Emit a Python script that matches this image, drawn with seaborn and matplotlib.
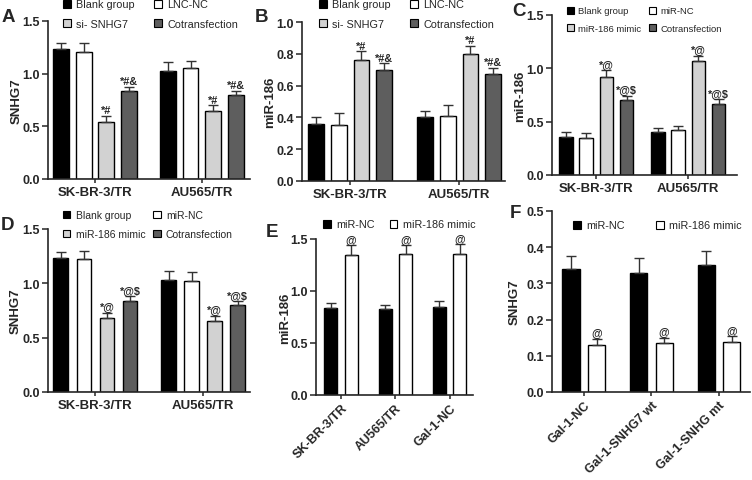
import numpy as np
import pandas as pd
import matplotlib
matplotlib.use("Agg")
import matplotlib.pyplot as plt
import seaborn as sns
from matplotlib.patches import Patch

# ---------------- data ----------------
cells = ["SK-BR-3/TR", "AU565/TR"]

a_hue = ["Blank group", "LNC-NC", "si- SNHG7", "Cotransfection"]
a_blank = [1.23, 1.03]; a_blank_err = [0.065, 0.08]
a_lnc = [1.21, 1.05];   a_lnc_err = [0.08, 0.07]
a_si = [0.54, 0.65];    a_si_err = [0.06, 0.05]
a_cot = [0.84, 0.80];   a_cot_err = [0.035, 0.035]
a_marks = ["", "", "*#", "*#&"]

b_blank = [0.36, 0.40]; b_blank_err = [0.04, 0.04]
b_lnc = [0.35, 0.41];   b_lnc_err = [0.08, 0.07]
b_si = [0.76, 0.80];    b_si_err = [0.055, 0.05]
b_cot = [0.70, 0.67];   b_cot_err = [0.04, 0.04]
b_marks = ["", "", "*#", "*#&"]

c_hue = ["Blank group", "miR-NC", "miR-186 mimic", "Cotransfection"]
c_blank = [0.36, 0.40]; c_blank_err = [0.04, 0.045]
c_nc = [0.35, 0.42];    c_nc_err = [0.04, 0.04]
c_mim = [0.92, 1.07];   c_mim_err = [0.06, 0.05]
c_cot = [0.70, 0.67];   c_cot_err = [0.04, 0.04]
c_marks = ["", "", "*@", "*@$"]

d_blank = [1.23, 1.03]; d_blank_err = [0.06, 0.08]
d_nc = [1.22, 1.02];    d_nc_err = [0.08, 0.08]
d_mim = [0.68, 0.65];   d_mim_err = [0.05, 0.05]
d_cot = [0.84, 0.80];   d_cot_err = [0.04, 0.035]
d_marks = ["", "", "*@", "*@$"]

e_cats = ["SK-BR-3/TR", "AU565/TR", "Gal-1-NC"]
ef_hue = ["miR-NC", "miR-186 mimic"]
e_nc = [0.84, 0.83, 0.85];   e_nc_err = [0.04, 0.04, 0.05]
e_mim = [1.35, 1.36, 1.36];  e_mim_err = [0.09, 0.08, 0.09]
e_marks = ["", "@"]

f_cats = ["Gal-1-NC", "Gal-1-SNHG7 wt", "Gal-1-SNHG mt"]
f_nc = [0.34, 0.33, 0.35];      f_nc_err = [0.037, 0.04, 0.04]
f_mim = [0.13, 0.135, 0.137];   f_mim_err = [0.017, 0.015, 0.017]
f_marks = ["", "@"]

col4 = ["#000000", "#ffffff", "#d2d2d2", "#5e5e5e"]
col2 = ["#000000", "#ffffff"]

# ---------------- style ----------------
sns.set_style("ticks")
plt.rcParams["font.family"] = ["Liberation Sans", "DejaVu Sans"]
plt.rcParams["axes.linewidth"] = 1.2

W, H = 752, 481
fig = plt.figure(figsize=(W / 100, H / 100), dpi=100)


def add_ax(l, r, t, b):
    return fig.add_axes([l / W, 1 - b / H, (r - l) / W, (b - t) / H])


def panel(rect, cats, hue, means, errs, cols, width, gap, xlim, ylim, yticks,
          ylabel, ylab_right, marks, leg_xy, leg_fs, leg_colsp,
          rot=False, mark_fs=7.8, leg_sp=0.8):
    ax = add_ax(*rect)
    rows = []
    for h, m in zip(hue, means):
        for c, v in zip(cats, m):
            rows.append({"cat": c, "grp": h, "val": v})
    df = pd.DataFrame(rows)
    sns.barplot(data=df, x="cat", y="val", hue="grp", order=cats, hue_order=hue,
                palette=cols, width=width, gap=gap, errorbar=None,
                edgecolor="black", linewidth=1.0, legend=False, ax=ax)
    for cont, m, e, mk in zip(ax.containers, means, errs, marks):
        xs = [bar.get_x() + bar.get_width() / 2 for bar in cont]
        ax.errorbar(xs, m, yerr=[np.zeros(len(e)), e], fmt="none",
                    ecolor="#333333", elinewidth=1.0, capsize=3.5, capthick=1.0,
                    zorder=1)
        if mk:
            for x, v, ee in zip(xs, m, e):
                ax.annotate(mk, (x, v + ee), xytext=(0, 0.5),
                            textcoords="offset points", ha="center", va="bottom",
                            fontsize=mark_fs, fontweight="bold")
    ax.set_xlim(*xlim)
    ax.set_ylim(*ylim)
    ax.set_yticks(yticks)
    ax.set_yticklabels([f"{t:.1f}" for t in yticks], fontsize=9, fontweight="bold")
    ax.set_xlabel("")
    ax.set_ylabel(ylabel, fontsize=9.5, fontweight="bold")
    ax.yaxis.set_label_coords((ylab_right - rect[0]) / (rect[1] - rect[0]), 0.5)
    ax.set_xticks(range(len(cats)))
    if rot:
        ax.set_xticklabels(cats, rotation=45, ha="right", rotation_mode="anchor",
                           fontsize=9, fontweight="bold")
    else:
        ax.set_xticklabels(cats, fontsize=9.5, fontweight="bold")
    ax.tick_params(axis="y", length=4, width=1.1, pad=2)
    ax.tick_params(axis="x", length=3, width=1.1, pad=2)
    sns.despine(ax=ax)
    handles = [Patch(facecolor=c, edgecolor="black", linewidth=0.8) for c in cols]
    labels = list(hue)
    if len(hue) == 4:  # row-wise reading order for a 2-column legend
        order = [0, 2, 1, 3]
        handles = [handles[i] for i in order]
        labels = [labels[i] for i in order]
    ax.legend(handles, labels, loc="upper left",
              bbox_to_anchor=(leg_xy[0] / W, 1 - leg_xy[1] / H),
              bbox_transform=fig.transFigure, ncol=2, frameon=False,
              fontsize=leg_fs, handlelength=0.7, handleheight=0.7,
              handletextpad=0.5, columnspacing=leg_colsp, labelspacing=leg_sp,
              borderpad=0, borderaxespad=0)
    return ax


# A
panel((48, 250, 22, 180), cells, a_hue,
      [a_blank, a_lnc, a_si, a_cot], [a_blank_err, a_lnc_err, a_si_err, a_cot_err],
      col4, 0.85, 0.3, (-0.44, 1.45), (0, 1.5), [0.0, 0.5, 1.0, 1.5],
      "SNHG7", 23, a_marks, (63, 0.5), 7.8, 1.8, leg_sp=0.85)
# B
panel((302, 505, 23, 182), cells, a_hue,
      [b_blank, b_lnc, b_si, b_cot], [b_blank_err, b_lnc_err, b_si_err, b_cot_err],
      col4, 0.83, 0.31, (-0.44, 1.42), (0, 1.0), [0.0, 0.2, 0.4, 0.6, 0.8, 1.0],
      "miR-186", 276, b_marks, (319, 0.5), 7.8, 1.8, leg_sp=0.85)
# C
panel((552, 737, 16, 176), cells, c_hue,
      [c_blank, c_nc, c_mim, c_cot], [c_blank_err, c_nc_err, c_mim_err, c_cot_err],
      col4, 0.88, 0.33, (-0.48, 1.53), (0, 1.5), [0.0, 0.5, 1.0, 1.5],
      "miR-186", 526, c_marks, (567, 7.5), 6.8, 0.8, leg_sp=0.85)
# D
panel((48, 250, 230, 393), cells, c_hue,
      [d_blank, d_nc, d_mim, d_cot], [d_blank_err, d_nc_err, d_mim_err, d_cot_err],
      col4, 0.855, 0.36, (-0.44, 1.435), (0, 1.5), [0.0, 0.5, 1.0, 1.5],
      "SNHG7", 22, d_marks, (63, 211), 7.5, 0.8, leg_sp=0.85)
# E
panel((316, 473, 240, 396), e_cats, ef_hue,
      [e_nc, e_mim], [e_nc_err, e_mim_err],
      col2, 0.75, 0.36, (-0.46, 2.43), (0, 1.5), [0.0, 0.5, 1.0, 1.5],
      "miR-186", 291, e_marks, (323, 220.5), 7.8, 1.4, rot=True)
# F
panel((552, 750, 212, 393), f_cats, ef_hue,
      [f_nc, f_mim], [f_nc_err, f_mim_err],
      col2, 0.755, 0.33, (-0.47, 2.46), (0, 0.5), [0.0, 0.1, 0.2, 0.3, 0.4, 0.5],
      "SNHG7", 521, f_marks, (573, 221.5), 7.8, 2.9, rot=True)

for lab, x, y in [("A", 8, 17), ("B", 261, 17.5), ("C", 519, 12),
                  ("D", 7.5, 226), ("E", 272, 233), ("F", 515, 214)]:
    fig.text(x / W, 1 - y / H, lab, fontsize=13.5, fontweight="bold",
             ha="center", va="center")

fig.savefig("out.png", dpi=100)
